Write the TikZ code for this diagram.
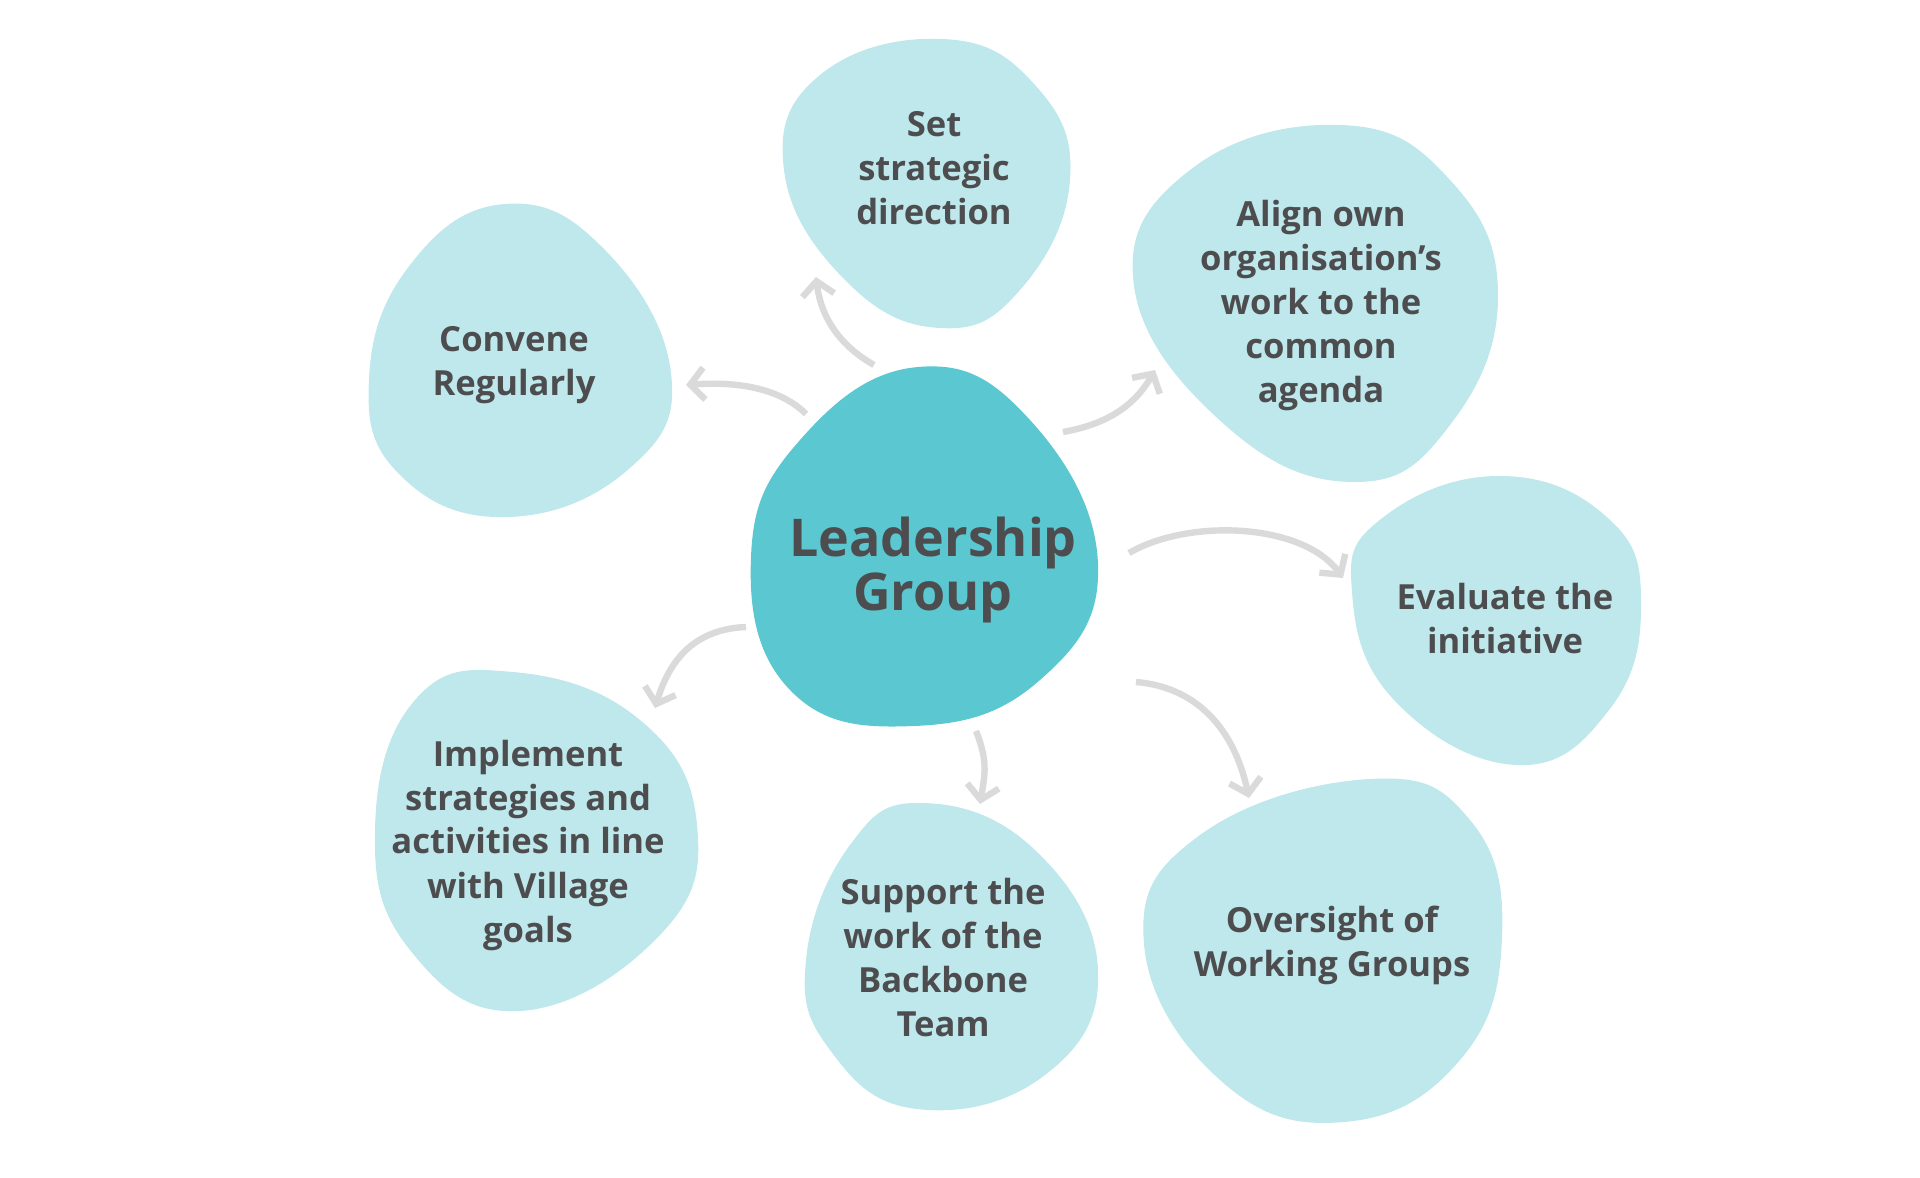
\documentclass[tikz,border=0pt]{standalone}
\usepackage{fontspec}
\setmainfont{Open Sans}
\usepackage{xcolor}
\definecolor{core}{HTML}{5BC7D1}
\definecolor{petal}{HTML}{BEE8EB}
\definecolor{ink}{HTML}{4D4D4F}
\definecolor{wire}{HTML}{DADADA}
\usetikzlibrary{arrows.meta}
\tikzset{
  >={Straight Barb[length=7pt,width=16pt]},
  blob/.style={fill=petal,draw=none},
  lbl/.style={font=\bfseries\fontsize{17.3}{22}\selectfont,text=ink,align=center,inner sep=0pt},
  big/.style={lbl,font=\bfseries\fontsize{26}{27}\selectfont},
  conn/.style={->,draw=wire,line width=3.2pt},
}
\begin{document}
\begin{tikzpicture}[x=0.5pt,y=-0.5pt]
\useasboundingbox (0,0) rectangle (1920,1177);
% petals
\fill[blob] plot[smooth cycle,tension=0.75] coordinates {(943,39) (1035,85) (1070,180) (1020,290) (940,328) (845,280) (784,170) (820,75)};
\fill[blob] plot[smooth cycle,tension=0.75] coordinates {(505,204) (605,250) (671,373) (630,468) (508,517) (400,475) (369,379) (410,265)};
\fill[blob] plot[smooth cycle,tension=0.75] coordinates {(1341,125) (1450,180) (1498,296) (1450,425) (1355,482) (1225,425) (1134,286) (1190,170)};
\fill[blob] plot[smooth cycle,tension=0.75] coordinates {(1499,476) (1609,519) (1641,606) (1609,710) (1517,765) (1395,701) (1352,592) (1381,519)};
\fill[blob] plot[smooth cycle,tension=0.75] coordinates {(1370,779) (1470,820) (1502,937) (1460,1060) (1344,1122) (1220,1080) (1144,944) (1200,835)};
\fill[blob] plot[smooth cycle,tension=0.75] coordinates {(923,803) (1035,850) (1098,970) (1045,1075) (917,1109) (830,1050) (806,960) (850,845)};
\fill[blob] plot[smooth cycle,tension=0.75] coordinates {(513,672) (640,720) (697,825) (660,935) (520,1011) (410,950) (375,830) (415,700)};
% centre
\fill[core] plot[smooth cycle,tension=0.75] coordinates {(918,367) (1030,420) (1098,564) (1040,680) (914,726) (790,690) (751,557) (800,440)};
\node[big] (lead) at (933,570) {Leadership\\Group};
% labels
\foreach \n/\p/\t in {setdir/{934,168}/{Set\\strategic\\direction},
    convene/{514,365}/{Convene\\Regularly},
    align/{1321,306}/{Align own\\organisation’s\\work to the\\common\\agenda},
    evaluate/{1505,619}/{Evaluate the\\initiative},
    oversee/{1332,945}/{Oversight of\\Working Groups},
    support/{943,958}/{Support the\\work of the\\Backbone\\Team},
    implement/{528,845}/{Implement\\strategies and\\activities in line\\with Village\\goals}}
  \node[lbl] (\n) at (\p) {\t};
% arrow ends
\foreach \n/\p in {s1/{874,365},e1/{816,277},s2/{806,414},e2/{686,385},
    s3/{1063,432},e3/{1155,370},s4/{1129,553},e4/{1343,578},
    s5/{1136,682},e5/{1249,798},s6/{976,731},e6/{980,804},
    s7/{746,627},e7/{655,708}}
  \coordinate (\n) at (\p);
\draw[conn] (s1) .. controls +(-35,-20) and +(5,40) .. (e1);
\draw[conn] (s2) .. controls +(-30,-30) and +(40,-3) .. (e2);
\draw[conn] (s3) .. controls +(45,-8) and +(-20,35) .. (e3);
\draw[conn] (s4) .. controls +(60,-35) and +(-40,-55) .. (e4);
\draw[conn] (s5) .. controls +(60,5) and +(-15,-70) .. (e5);
\draw[conn] (s6) .. controls +(12,30) and +(5,-30) .. (e6);
\draw[conn] (s7) .. controls +(-50,2) and +(15,-50) .. (e7);
\end{tikzpicture}
\end{document}
